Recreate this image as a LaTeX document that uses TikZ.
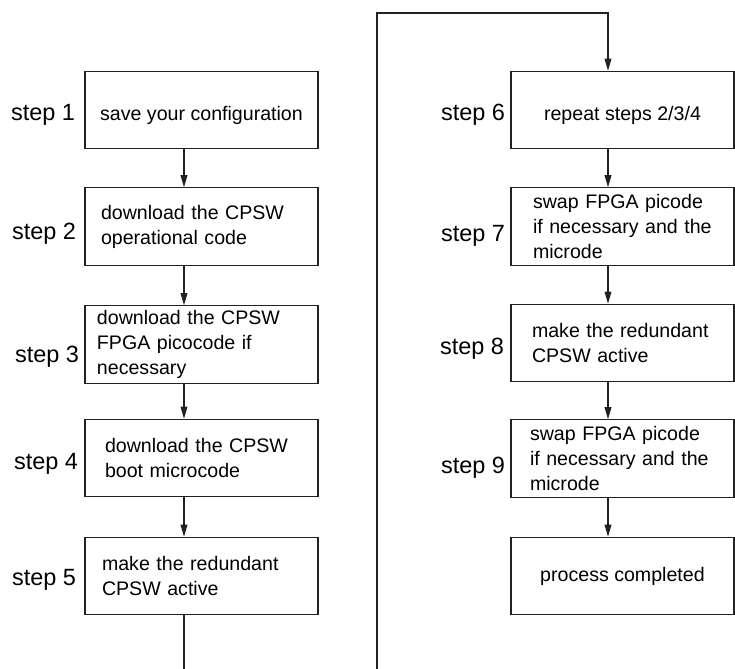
\documentclass[tikz,border=0pt]{standalone}
\usepackage{fontspec}
\setmainfont{Liberation Sans}
\usetikzlibrary{arrows.meta, positioning}
\definecolor{linecolor}{HTML}{222222}
\newcommand{\boxfont}{\fontsize{9.8}{12.5}\selectfont}
\newcommand{\stepfont}{\fontsize{11.75}{14}\selectfont}

\begin{document}
\begin{tikzpicture}[x=0.5pt, y=-0.5pt,
  stepbox/.style={draw=linecolor, line width=0.55pt, minimum height=38.75pt,
    inner ysep=0pt, font=\boxfont},
  leftbox/.style={stepbox, minimum width=116.5pt},
  rightbox/.style={stepbox, minimum width=111.5pt},
  leftpad/.style={leftbox, align=left, inner xsep=#1, text width=116.5pt-2*#1},
  rightpad/.style={rightbox, align=left, inner xsep=#1, text width=111.5pt-2*#1},
  lowtext/.style={text height=12pt, text depth=2pt},
  steplabel/.style={anchor=east, inner sep=0pt, font=\stepfont},
  flow/.style={-{Triangle[length=6pt, width=3.4pt]}, draw=linecolor, line width=0.55pt}]
  \useasboundingbox (0,0) rectangle (735,669);
  \clip (0,0) rectangle (735,669);

  % left column
  \node[leftbox, lowtext] (b1) at (201.5,110) {save your configuration};
  \node[leftpad=8pt] (b2) at (201.5,226.5) {download the CPSW\\operational code};
  \node[leftpad=6pt] (b3) at (201.5,344.5) {download the CPSW\\FPGA picocode if\\necessary};
  \node[leftpad=10pt] (b4) at (201.5,458) {download the CPSW\\boot microcode};
  \node[leftpad=8.5pt] (b5) at (201.5,576) {make the redundant\\CPSW active};

  % right column
  \node[rightbox, lowtext] (b6) at (622.5,110) {repeat steps 2/3/4};
  \node[rightpad=11pt] (b7) at (622.5,226.5) {swap FPGA picode\\if necessary and the\\microde};
  \node[rightpad=10.5pt] (b8) at (622.5,343) {make the redundant\\CPSW active};
  \node[rightpad=9.5pt] (b9) at (622.5,458.5) {swap FPGA picode\\if necessary and the\\microde};
  \node[rightbox] (b10) at (622.5,576) {process completed};

  % step labels
  \node[steplabel] (s1) at ([xshift=-4.5pt, yshift=-2.5pt]b1.west) {step 1};
  \node[steplabel] (s2) at ([xshift=-4pt, yshift=-3.5pt]b2.west) {step 2};
  \node[steplabel] (s3) at ([xshift=-2.5pt, yshift=-6pt]b3.west) {step 3};
  \node[steplabel] (s4) at ([xshift=-3pt, yshift=-3pt]b4.west) {step 4};
  \node[steplabel] (s5) at ([xshift=-4pt, yshift=-2pt]b5.west) {step 5};
  \node[steplabel] (s6) at ([xshift=-2.5pt, yshift=-2.5pt]b6.west) {step 6};
  \node[steplabel] (s7) at ([xshift=-2.5pt, yshift=-4.5pt]b7.west) {step 7};
  \node[steplabel] (s8) at ([xshift=-3pt, yshift=-3pt]b8.west) {step 8};
  \node[steplabel] (s9) at ([xshift=-2.5pt, yshift=-4.5pt]b9.west) {step 9};

  % connectors
  \coordinate (lx) at (184,0);
  \coordinate (rx) at (608,0);
  \coordinate (loop) at (377,13);
  \foreach \a/\b/\c in {b1/b2/lx, b2/b3/lx, b3/b4/lx, b4/b5/lx,
                        b6/b7/rx, b7/b8/rx, b8/b9/rx, b9/b10/rx}
    \draw[flow] (\a.south -| \c) -- (\b.north -| \c);
  \draw[flow] (b5.south -| lx) -- ++(0,60) -| (loop) -| (b6.north -| rx);
\end{tikzpicture}
\end{document}
